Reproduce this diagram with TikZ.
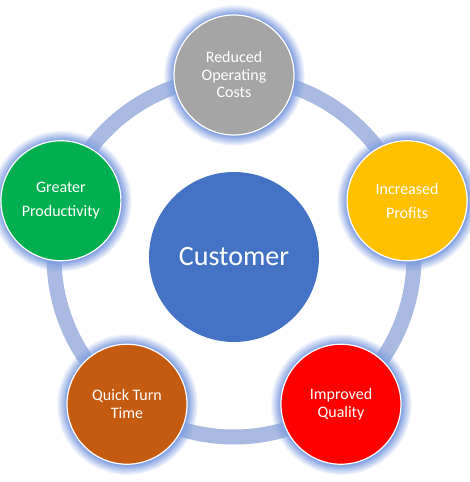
\documentclass[tikz,border=0pt]{standalone}
\usepackage{fontspec}
\setmainfont{Carlito}
\usetikzlibrary{shadows}
\definecolor{ringblue}{HTML}{A9BAE2}
\definecolor{glowblue}{HTML}{7F9EE0}
\definecolor{hubblue}{HTML}{4472C4}
\definecolor{costgrey}{HTML}{A5A5A5}
\definecolor{profitgold}{HTML}{FFC000}
\definecolor{prodgreen}{HTML}{00B050}
\definecolor{qualred}{HTML}{FF0000}
\definecolor{turnbrown}{HTML}{C55A11}
\tikzset{
  ring/.style={draw=ringblue, line width=15pt},
  hub/.style={circle, fill=hubblue, minimum size=170pt, inner sep=0pt, text=white,
    font=\fontsize{28}{32}\selectfont},
  spoke/.style={circle, draw=white, line width=1.2pt, minimum size=120pt, inner sep=0pt,
    text=white, align=center, font=\fontsize{16}{17.5}\selectfont,
    circular glow={fill=glowblue, shadow scale=1.18}},
}
\begin{document}
\begin{tikzpicture}[x=1pt, y=1pt, line join=round, line cap=round]
\useasboundingbox (-234,-225) rectangle (236,257);
\coordinate (O) at (0,0);
% ring behind the circles
\draw[ring] (O) circle (180);
\node[hub] (cust) at (O) {Customer};
% the five outer circles
\foreach \n/\a/\c/\t in {cost/90/costgrey/{Reduced\\Operating\\Costs},
    profit/18/profitgold/{Increased\\[6pt]Profits},
    qual/-54/qualred/{Improved\\Quality},
    turn/-126/turnbrown/{Quick Turn\\Time},
    prod/162/prodgreen/{Greater\\[6pt]Productivity}}
  \node[spoke, fill=\c] (\n) at (\a:182) {\t};
\end{tikzpicture}
\end{document}
